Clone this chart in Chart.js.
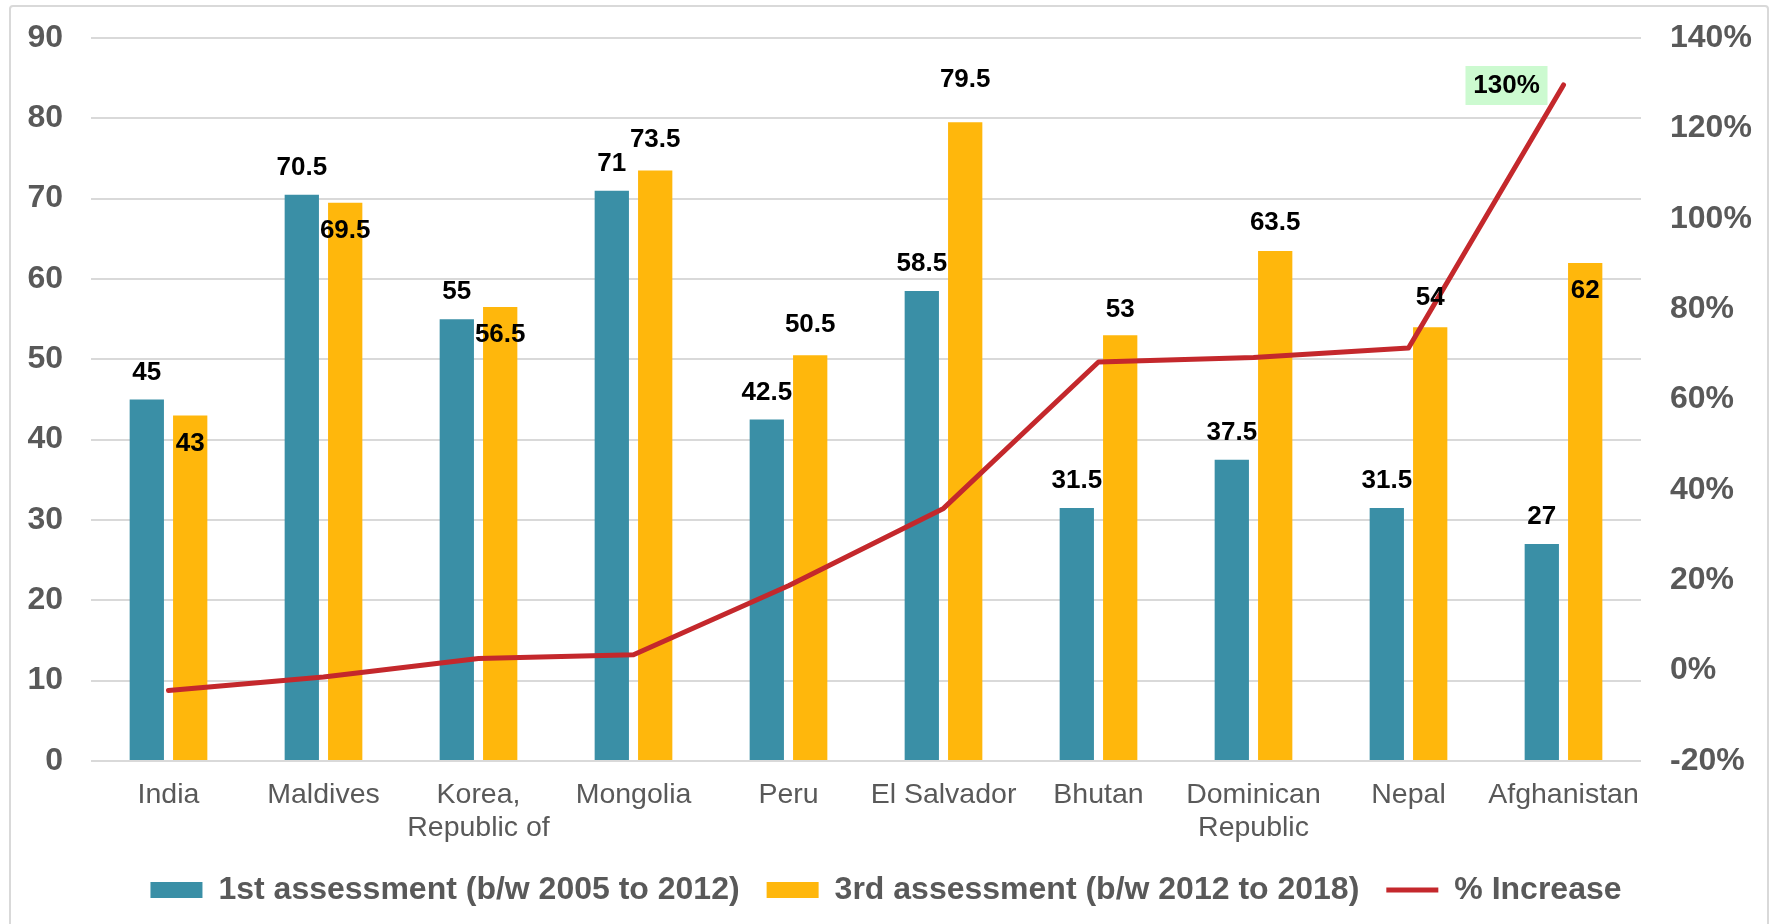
<!DOCTYPE html>
<html><head><meta charset="utf-8">
<script src="https://cdn.jsdelivr.net/npm/chart.js@4/dist/chart.umd.min.js"></script>
<style>
html,body{margin:0;padding:0;background:#fff;width:1770px;height:924px;overflow:hidden;}
#frame{position:absolute;left:9px;top:5px;width:1760px;height:960px;border:2px solid #D9D9D9;border-radius:4px;box-sizing:border-box;}
#wrap{position:absolute;left:0;top:0;width:1770px;height:924px;}
</style></head><body>
<div id="frame"></div>
<div id="wrap"><canvas id="c" width="1770" height="924"></canvas></div>
<script>
const categories = ['India', 'Maldives', ['Korea,', 'Republic of'], 'Mongolia', 'Peru', 'El Salvador', 'Bhutan', ['Dominican', 'Republic'], 'Nepal', 'Afghanistan'];
const firstAssessment = [45, 70.5, 55, 71, 42.5, 58.5, 31.5, 37.5, 31.5, 27];
const thirdAssessment = [43, 69.5, 56.5, 73.5, 50.5, 79.5, 53, 63.5, 54, 62];
const pctIncrease = [-4.4, -1.4, 2.7, 3.5, 18.8, 35.9, 68.3, 69.3, 71.4, 129.6];
const seriesNames = ['1st assessment (b/w 2005 to 2012)', '3rd assessment (b/w 2012 to 2018)', '% Increase'];
const leftTicks = [0, 10, 20, 30, 40, 50, 60, 70, 80, 90];
const rightTicks = [-20, 0, 20, 40, 60, 80, 100, 120, 140];
const highlightedPctLabel = '130%';

// label placement (presentation only)
const thirdLabelInside = [true, true, true, false, false, false, false, false, false, true];
const thirdLabelNudge = [0, 0, 0, -3, -2, -15, 3, 0, -1, 0];

const FONT = "'Liberation Sans', Arial, sans-serif";
const GRAY = '#595959';
const TEAL = '#3A8FA6';
const GOLD = '#FFB70C';
const RED = '#C4282C';

const labelPlugin = {
  id: 'valueLabels',
  afterDatasetsDraw(chart) {
    const ctx = chart.ctx;
    ctx.save();
    ctx.font = 'bold 26px ' + FONT;
    ctx.fillStyle = '#000';
    ctx.textAlign = 'center';
    ctx.textBaseline = 'middle';
    const m0 = chart.getDatasetMeta(0);
    m0.data.forEach((el, i) => {
      ctx.fillText(String(firstAssessment[i]), el.x, el.y - 27);
    });
    const m1 = chart.getDatasetMeta(1);
    m1.data.forEach((el, i) => {
      const y = thirdLabelInside[i] ? el.y + 28 : el.y - 28 + thirdLabelNudge[i];
      ctx.fillText(String(thirdAssessment[i]), el.x, y);
    });
    const m2 = chart.getDatasetMeta(2);
    const last = m2.data[m2.data.length - 1];
    const lx = last.x - 57, ly = last.y;
    ctx.fillStyle = '#CCFAD0';
    ctx.fillRect(lx - 41, ly - 19, 82, 39);
    ctx.fillStyle = '#000';
    ctx.fillText(highlightedPctLabel, lx, ly + 1);
    ctx.restore();
  }
};

const noVertPad = (scale, w) => { scale.width = w; scale.paddingTop = 0; scale.paddingBottom = 0; };

const chart = new Chart(document.getElementById('c'), {
  data: {
    labels: categories,
    datasets: [
      { type: 'bar', label: seriesNames[0], data: firstAssessment, backgroundColor: TEAL, yAxisID: 'y', order: 1,
        categoryPercentage: 0.56, barPercentage: 0.79 },
      { type: 'bar', label: seriesNames[1], data: thirdAssessment, backgroundColor: GOLD, yAxisID: 'y', order: 1,
        categoryPercentage: 0.56, barPercentage: 0.79 },
      { type: 'line', label: seriesNames[2], data: pctIncrease, borderColor: RED, backgroundColor: RED,
        borderWidth: 5, pointRadius: 0, pointHoverRadius: 0, yAxisID: 'y1', order: 0, tension: 0, borderJoinStyle: 'round', borderCapStyle: 'round' }
    ]
  },
  options: {
    responsive: false,
    animation: false,
    devicePixelRatio: 1,
    layout: { padding: { left: 12, right: 10, top: 38, bottom: 8 } },
    plugins: {
      tooltip: { enabled: false },
      legend: {
        position: 'bottom',
        labels: {
          usePointStyle: true,
          pointStyleWidth: 52,
          boxHeight: 16,
          padding: 27,
          color: GRAY,
          font: { family: FONT, size: 32, weight: 'bold' },
          sort: (a, b) => a.datasetIndex - b.datasetIndex,
          generateLabels(chart) {
            const items = Chart.defaults.plugins.legend.labels.generateLabels(chart);
            items.forEach((it) => {
              if (it.datasetIndex === 2) { it.pointStyle = 'line'; it.lineWidth = 5; it.strokeStyle = RED; }
              else { it.pointStyle = 'rect'; it.lineWidth = 0; }
            });
            return items;
          }
        }
      }
    },
    scales: {
      x: {
        grid: { display: false, drawTicks: false },
        border: { display: false },
        afterFit(scale) { scale.height = 86; },
        ticks: { color: GRAY, font: { family: FONT, size: 28.5, lineHeight: '33px' }, padding: 18, maxRotation: 0, autoSkip: false }
      },
      y: {
        position: 'left',
        min: 0, max: 90,
        afterBuildTicks(scale) { scale.ticks = leftTicks.map(v => ({ value: v })); },
        afterFit(scale) { noVertPad(scale, 79); },
        grid: { color: '#D9D9D9', lineWidth: 2, drawTicks: false },
        border: { display: false },
        ticks: { color: GRAY, font: { family: FONT, size: 32, weight: 'bold' }, padding: 28 }
      },
      y1: {
        position: 'right',
        min: -20, max: 140,
        afterBuildTicks(scale) { scale.ticks = rightTicks.map(v => ({ value: v })); },
        afterFit(scale) { noVertPad(scale, 119); },
        grid: { display: false, drawTicks: false },
        border: { display: false },
        ticks: { color: GRAY, font: { family: FONT, size: 32, weight: 'bold' }, padding: 29, callback: v => v + '%' }
      }
    }
  },
  plugins: [labelPlugin]
});
</script>
</body></html>
